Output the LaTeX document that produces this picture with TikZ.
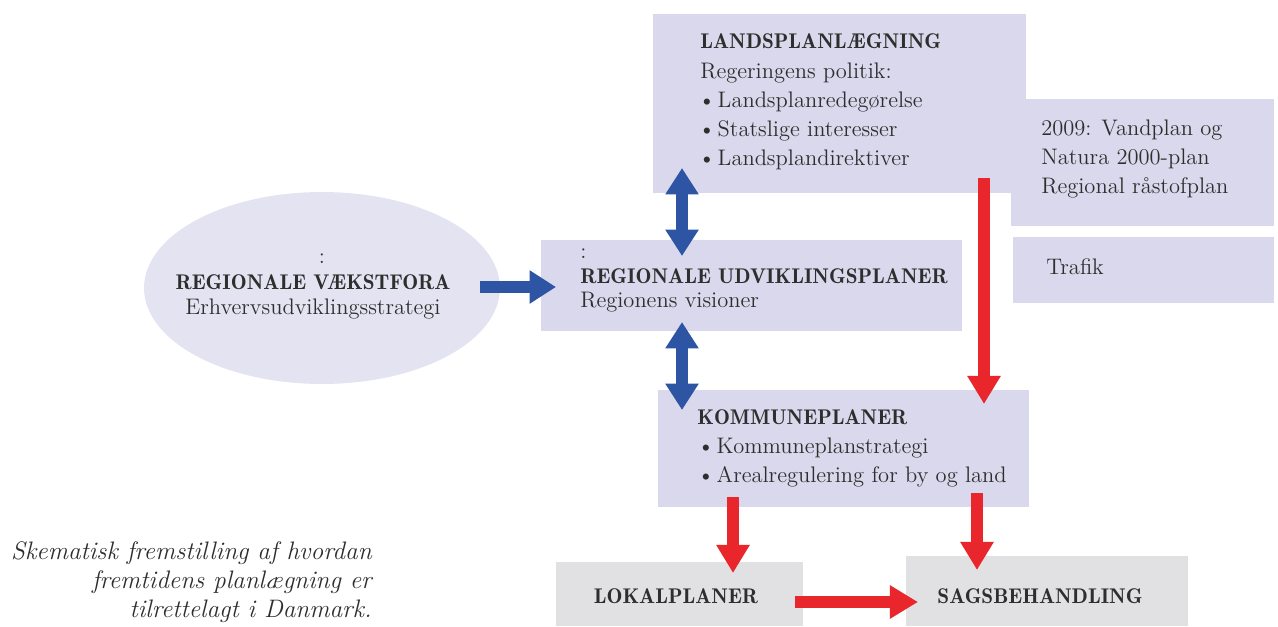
\documentclass[tikz,border=0pt]{standalone}
\usetikzlibrary{arrows.meta,shapes.geometric}
\definecolor{lav}{HTML}{D9D8EC}
\definecolor{lavlight}{HTML}{E4E3F1}
\definecolor{grayb}{HTML}{E1E1E3}
\definecolor{bluea}{HTML}{2E55A3}
\definecolor{reda}{HTML}{E8262B}
\definecolor{ink}{HTML}{2E2E2E}
\tikzset{
  px/.style={x=0.02cm,y=-0.02cm},
  lbox/.style={fill=lav,draw=none,anchor=north west,inner sep=0pt},
  gbox/.style={fill=grayb,draw=none,anchor=north west,inner sep=0pt},
  ln/.style={anchor=base west,inner sep=0pt,text=ink,font=\fontsize{12.8}{15}\selectfont},
  lnb/.style={ln,font=\fontsize{12.1}{14}\fontseries{b}\selectfont},
  lnc/.style={ln,anchor=base},
  lncb/.style={lnb,anchor=base},
  captxt/.style={anchor=base east,inner sep=0pt,text=ink,font=\fontsize{14.4}{17}\selectfont\itshape},
  barrow/.style={bluea,line width=7pt,-{Triangle[width=18pt,length=15pt]}},
  bdarrow/.style={bluea,line width=7pt,{Triangle[width=18pt,length=15pt]}-{Triangle[width=18pt,length=15pt]}},
  rarrow/.style={reda,line width=7pt,-{Triangle[width=18pt,length=16pt]}},
}
\newcommand{\bul}{\textbullet\hspace{0.1em}}
\begin{document}
\begin{tikzpicture}[px]
\useasboundingbox (0,0) rectangle (1278,626);
% boxes
\node[lbox,minimum width=7.46cm,minimum height=3.58cm] (land) at (653,14) {};
\node[lbox,minimum width=5.26cm,minimum height=2.54cm] (natur) at (1011,99) {};
\node[lbox,minimum width=5.22cm,minimum height=1.32cm] (trafik) at (1013,237) {};
\node[lbox,minimum width=8.42cm,minimum height=1.82cm] (region) at (541,240) {};
\node[lbox,minimum width=7.42cm,minimum height=2.34cm] (kommune) at (658,390) {};
\node[gbox,minimum width=4.94cm,minimum height=1.28cm] (lokal) at (556,562) {};
\node[gbox,minimum width=5.64cm,minimum height=1.40cm] (sags) at (906,556) {};
\node[fill=lavlight,ellipse,minimum width=7.12cm,minimum height=3.84cm,inner sep=0pt] (vaekst) at (322,288) {};
% texts
\node[lnb] (t1) at (700,48) {LANDSPLANLÆGNING};
\node[ln] (t2) at (700,78) {Regeringens politik:};
\node[ln] (t3) at (698,107) {\bul Landsplanredegørelse};
\node[ln] (t4) at (698,136) {\bul Statslige interesser};
\node[ln] (t5) at (698,165) {\bul Landsplandirektiver};
\node[ln] (n1) at (1041,135) {2009: Vandplan og};
\node[ln] (n2) at (1041,164) {Natura 2000-plan};
\node[ln] (n3) at (1041,193) {Regional råstofplan};
\node[ln] (tr) at (1046,274) {Trafik};
\node[ln] (r0) at (580,258) {:};
\node[lnb] (r1) at (580,283) {REGIONALE UDVIKLINGSPLANER};
\node[ln] (r2) at (580,307) {Regionens visioner};
\node[lnc] (v0) at (322,263) {:};
\node[lncb] (v1) at (313,289) {REGIONALE VÆKSTFORA};
\node[lnc] (v2) at (313,314) {Erhvervsudviklingsstrategi};
\node[lnb] (k1) at (697,424) {KOMMUNEPLANER};
\node[ln] (k2) at (697,453) {\bul Kommuneplanstrategi};
\node[ln] (k3) at (697,482) {\bul Arealregulering for by og land};
\node[lncb] (l1) at (676,603) {LOKALPLANER};
\node[lncb] (s1) at (1040,603) {SAGSBEHANDLING};
\node[captxt] (c1) at (372,559) {Skematisk fremstilling af hvordan};
\node[captxt] (c2) at (372,588) {fremtidens planlægning er};
\node[captxt] (c3) at (372,617) {tilrettelagt i Danmark.};
% arrow end points
\coordinate (a1s) at (480,287); \coordinate (a1e) at (556,287);
\coordinate (a2s) at (682,168); \coordinate (a2e) at (682,256);
\coordinate (a3s) at (682,322); \coordinate (a3e) at (682,410);
\coordinate (a4s) at (984,178); \coordinate (a4e) at (984,404);
\coordinate (a5s) at (733,497); \coordinate (a5e) at (733,573);
\coordinate (a6s) at (977,493); \coordinate (a6e) at (977,570);
\coordinate (a7s) at (795,602); \coordinate (a7e) at (918,602);
\draw[barrow] (a1s) -- (a1e);
\draw[bdarrow] (a2s) -- (a2e);
\draw[bdarrow] (a3s) -- (a3e);
\draw[rarrow] (a4s) -- (a4e);
\draw[rarrow] (a5s) -- (a5e);
\draw[rarrow] (a6s) -- (a6e);
\draw[rarrow] (a7s) -- (a7e);
\end{tikzpicture}
\end{document}
